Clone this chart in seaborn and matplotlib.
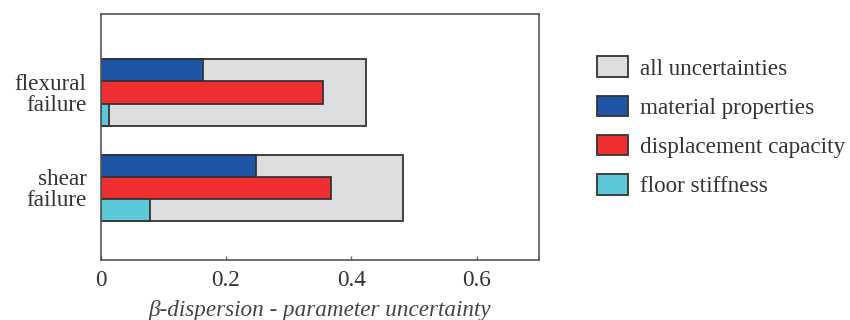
import numpy as np
import pandas as pd
import matplotlib
matplotlib.use("Agg")
import matplotlib.pyplot as plt
import seaborn as sns
from matplotlib.patches import Patch

# ---- data ----
failures = ["flexural\nfailure", "shear\nfailure"]
all_unc = [0.424, 0.482]
material = [0.163, 0.248]
displacement = [0.355, 0.368]
floor = [0.013, 0.079]
sources = ["material properties", "displacement capacity", "floor stiffness"]
xticks = [0, 0.2, 0.4, 0.6]
xtick_labels = ["0", "0.2", "0.4", "0.6"]

colors = {"all uncertainties": "#DCDDDF", "material properties": "#1F55A4",
          "displacement capacity": "#EE2E2F", "floor stiffness": "#5CC8D8"}

df_all = pd.DataFrame({"failure": failures, "value": all_unc})
df_comp = pd.DataFrame({
    "failure": failures * 3,
    "source": [s for s in sources for _ in failures],
    "value": material + displacement + floor,
})

sns.set_theme(style="white")
plt.rcParams["font.family"] = ["Liberation Serif", "DejaVu Serif"]
txt = "#333333"
edge = "#333333"

fig = plt.figure(figsize=(8.5, 3.2), dpi=100)
ax = fig.add_axes([100.5 / 850, 1 - 260 / 320, (539.3 - 100.5) / 850, (260 - 14.3) / 320])

sns.barplot(data=df_all, x="value", y="failure", color=colors["all uncertainties"],
            width=0.7, edgecolor=edge, linewidth=1.3, saturation=1, ax=ax, errorbar=None)
sns.barplot(data=df_comp, x="value", y="failure", hue="source", hue_order=sources,
            palette=[colors[s] for s in sources], width=0.7, dodge=True, gap=0,
            edgecolor=edge, linewidth=1.3, saturation=1, ax=ax, errorbar=None, legend=False)

ax.set_xlim(0, 0.7)
ax.set_ylim(1.754, -0.819)
ax.set_xticks(xticks)
ax.set_xticklabels(xtick_labels)
ax.tick_params(axis="x", direction="in", length=3, width=1, color="#666666",
               labelsize=16.7, labelcolor=txt, pad=7, bottom=True)
ax.tick_params(axis="y", length=0, labelsize=16.7, labelcolor=txt, pad=10)
for lab in ax.get_yticklabels():
    lab.set_linespacing(1.0)
ax.set_ylabel("")
ax.set_xlabel("β-dispersion - parameter uncertainty", fontsize=16.7, style="italic",
              color="#444444", labelpad=7)
for sp in ax.spines.values():
    sp.set_visible(True)
    sp.set_color("#555555")
    sp.set_linewidth(1.2)

handles = [Patch(facecolor=colors[k], edgecolor=edge, linewidth=1.3, label=k)
           for k in ["all uncertainties"] + sources]
fig.legend(handles=handles, loc="upper left", bbox_to_anchor=(596.7 / 850, 1 - 56.5 / 320),
           frameon=False, fontsize=16.7, handlelength=1.37, handleheight=0.98,
           handletextpad=0.5, labelspacing=0.69, borderpad=0, borderaxespad=0,
           labelcolor=txt)

fig.savefig("out.png", dpi=100)
